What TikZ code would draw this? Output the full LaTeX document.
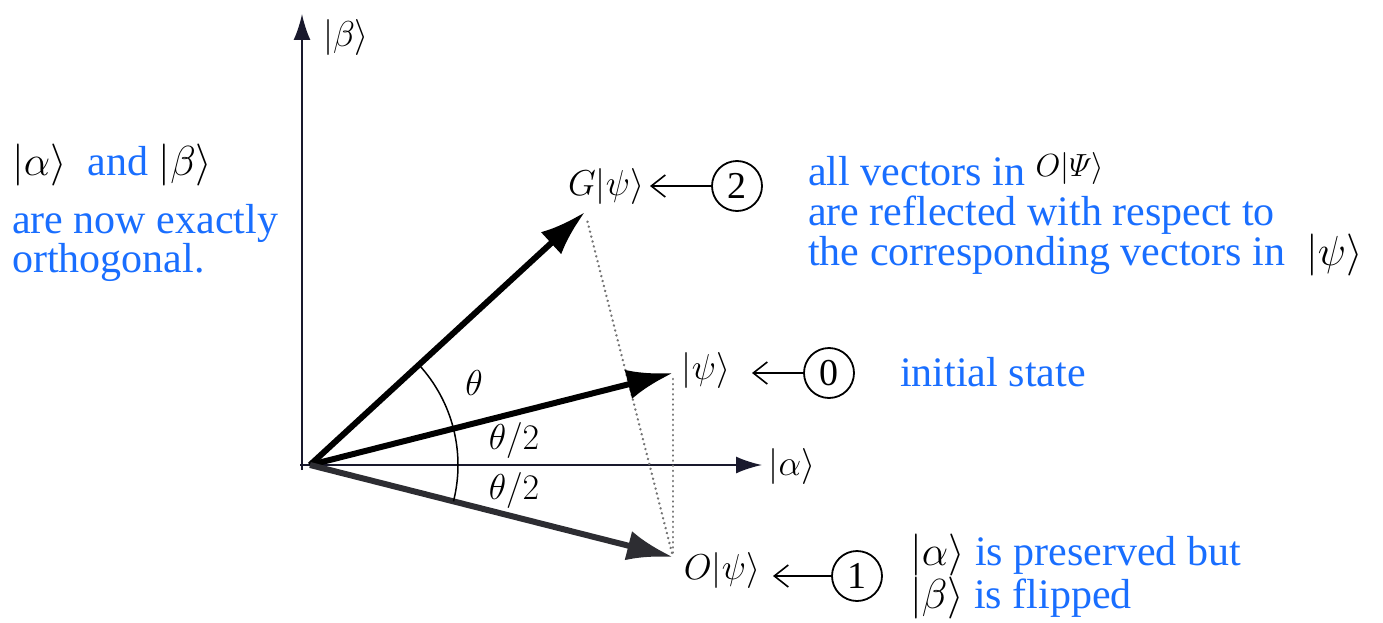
\RequirePackage{fix-cm}
\documentclass[tikz,border=0pt]{standalone}
\usepackage{amsmath}
\usepackage{fontspec}
\setmainfont{Liberation Serif}
\usetikzlibrary{arrows.meta}
\definecolor{noteblue}{RGB}{25,110,255}
\definecolor{axiscol}{RGB}{25,25,45}
\definecolor{vecgray}{RGB}{45,45,50}
\begin{document}
\begin{tikzpicture}[x=1pt,y=-1pt,
  lbl/.style={font=\fontsize{36}{36}\selectfont, inner sep=0pt},
  note/.style={font=\fontsize{42}{40}\selectfont, text=noteblue, anchor=base west, inner sep=0pt},
  vec/.style={line width=6pt, -{Latex[length=46pt,width=30pt]}},
  axis/.style={line width=2pt, axiscol, -{Latex[length=26pt,width=17pt]}},
  num/.style={circle, draw, line width=1.8pt, minimum size=50pt, inner sep=0pt, font=\fontsize{38}{38}\selectfont},
  pointer/.style={line width=1.6pt, -{Straight Barb[length=14pt,width=22pt]}},
  dots/.style={line width=2.6pt, black!55, dash pattern=on 0.1pt off 5pt, line cap=round}]
\useasboundingbox (0,0) rectangle (1383,623);
% origin and tips
\coordinate (O) at (310,465);
\coordinate (ybase) at (302,470);
\coordinate (ytip) at (302,14);
\coordinate (xbase) at (300,465);
\coordinate (xtip) at (762,465);
\coordinate (Gt) at (585,212);
\coordinate (Pt) at (673,373);
\coordinate (Ot) at (673,557);
% axes
\draw[axis] (ybase) -- (ytip);
\draw[axis] (xbase) -- (xtip);
% dotted
\draw[dots, shorten <=10pt, shorten >=4pt] (Gt) -- (Ot);
\draw[dots, shorten <=6pt, shorten >=4pt] (Pt) -- (Ot);
% vectors
\draw[vec] (O) -- (Gt);
\draw[vec] (O) -- (Pt);
\draw[vec, vecgray] (O) -- (Ot);
% arc
\draw[line width=1.5pt] ([shift={(14.2:148)}]O) arc[start angle=14.2, end angle=-42.6, radius=148];
% labels
\node[lbl] (Gl) at (606,186) {$G|\psi\rangle$};
\node[lbl] (Pl) at (706,370) {$|\psi\rangle$};
\node[lbl] (Al) at (792,466) {$|\alpha\rangle$};
\node[lbl] (Ol) at (722,570) {$O|\psi\rangle$};
\node[lbl] (Bl) at (346,38) {$|\beta\rangle$};
\node[lbl] (th) at (474,383) {$\theta$};
\node[lbl] (th1) at (514,440) {$\theta/2$};
\node[lbl] (th2) at (514,490) {$\theta/2$};
% circled numbers
\node[num] (c2) at (737,186) {2};
\node[num] (c0) at (829,373) {0};
\node[num] (c1) at (857,576) {1};
\draw[pointer] (c2) -- (650,186);
\draw[pointer] (c0) -- (752,373);
\draw[pointer] (c1) -- (773,576);
% notes
\node[note] (n1) at (12,175) {{\color{black}$|\alpha\rangle$}\ \ and {\color{black}$|\beta\rangle$}};
\node[note] (n2) at (12,233) {are now exactly};
\node[note] (n3) at (12,272) {orthogonal.};
\node[note] (r1) at (808,185) {all vectors in \raisebox{9pt}{\color{black}\fontsize{32}{32}\selectfont$O|\varPsi\rangle$}};
\node[note] (r2) at (808,225) {are reflected with respect to};
\node[note] (r3) at (808,265) {the corresponding vectors in\ \ {\color{black}$|\psi\rangle$}};
\node[note] (r4) at (900,386) {initial state};
\node[note] (b1) at (910,565) {{\color{black}$|\alpha\rangle$} is preserved but};
\node[note] (b2) at (910,608) {{\color{black}$|\beta\rangle$} is flipped};
\end{tikzpicture}
\end{document}
